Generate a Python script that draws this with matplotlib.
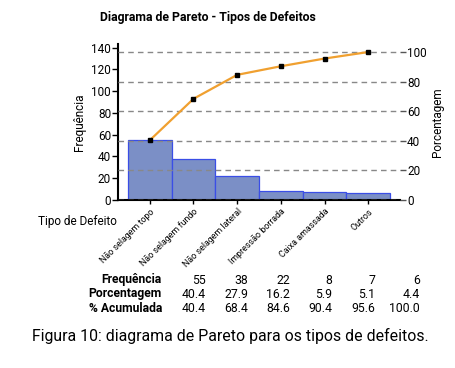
import matplotlib
matplotlib.use("Agg")
import matplotlib.pyplot as plt

plt.rcParams['font.family'] = ['Roboto', 'DejaVu Sans']

categories = ["Não selagem topo", "Não selagem fundo", "Não selagem lateral",
              "Impressão borrada", "Caixa amassada", "Outros"]
freq = [55, 38, 22, 8, 7, 6]
pct_labels = ["40.4", "27.9", "16.2", "5.9", "5.1", "4.4"]
cum_labels = ["40.4", "68.4", "84.6", "90.4", "95.6", "100.0"]
cum_pct = [40.4, 68.4, 84.6, 90.4, 95.6, 100.0]
left_ticks = [0, 20, 40, 60, 80, 100, 120, 140]
right_ticks = [0, 20, 40, 60, 80, 100]

W, H = 456, 368
fig = plt.figure(figsize=(W / 100, H / 100), dpi=100)

def fx(px):
    return px / W

def fy(py):
    return 1 - py / H

ax = fig.add_axes([fx(118), fy(200), fx(400) - fx(118), fy(44) - fy(200)])
x = list(range(len(categories)))
ax.bar(x, freq, width=1.0, color="#7b8fc6", edgecolor="#3a4ee6", linewidth=0.9, zorder=2)
total = sum(freq)
ymax = 143.4
ax.set_ylim(0, ymax)
ax.set_xlim(-0.729, 5.729)
ax.set_yticks(left_ticks)
ax.tick_params(axis='y', labelsize=8.5, length=4, width=1, pad=1)
ax.set_xticks(x)
ax.set_xticklabels(categories, rotation=45, ha='right', rotation_mode='anchor', fontsize=6.4)
ax.tick_params(axis='x', length=3, width=1, pad=2)
ax.spines['top'].set_visible(False)
ax.spines['right'].set_visible(False)
ax.spines['left'].set_linewidth(1.5)
ax.spines['bottom'].set_linewidth(1.5)
ax.set_ylabel("Frequência", fontsize=8.5, labelpad=4)

ax2 = ax.twinx()
ax2.set_ylim(0, ymax / total * 100)
ax2.set_yticks(right_ticks)
ax2.tick_params(axis='y', labelsize=8.5, length=4, width=1, pad=1, color="#555555")
for s in ['top', 'left', 'right', 'bottom']:
    ax2.spines[s].set_visible(False)
ax2.grid(axis='y', linestyle=(0, (4, 3)), color="#888888", linewidth=1.0)
ax2.plot(x, cum_pct, color="#f0a030", linewidth=1.6, marker='s', markersize=3.5,
         markerfacecolor='black', markeredgecolor='black', zorder=3)
ax2.set_ylabel("Porcentagem", fontsize=8.5, labelpad=3)

fig.text(fx(100), fy(18), "Diagrama de Pareto - Tipos de Defeitos", fontsize=8.8,
         fontweight='bold', ha='left', va='center')
fig.text(fx(117), fy(222), "Tipo de Defeito", fontsize=8.5, ha='right', va='center')

row_y = [280, 294, 309]
row_names = ["Frequência", "Porcentagem", "% Acumulada"]
col_x = [206, 248, 290, 332, 375, 420]
rows = [[str(v) for v in freq], pct_labels, cum_labels]
for ry, name, vals in zip(row_y, row_names, rows):
    fig.text(fx(162), fy(ry), name, fontsize=8.7, fontweight='bold', ha='right', va='center')
    for cx, v in zip(col_x, vals):
        fig.text(fx(cx), fy(ry), v, fontsize=8.8, ha='right', va='center')

fig.text(fx(230), fy(336), "Figura 10: diagrama de Pareto para os tipos de defeitos.",
         fontsize=11.4, ha='center', va='center')

fig.savefig("out.png", dpi=100)
